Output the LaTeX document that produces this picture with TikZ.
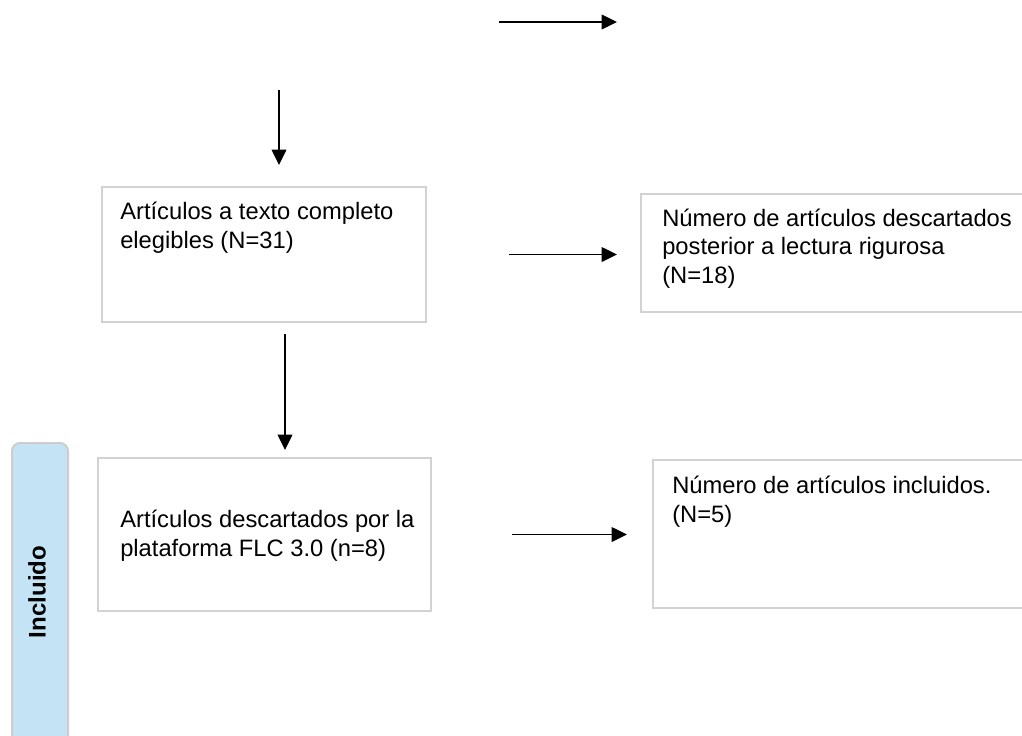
\documentclass[tikz,border=0pt]{standalone}
\usepackage{fontspec}
\setmainfont{Liberation Sans}
\usetikzlibrary{positioning,arrows.meta,calc}
\definecolor{BoxGray}{RGB}{210,210,210}
\definecolor{PanelBlue}{RGB}{196,228,245}
\definecolor{PanelEdge}{RGB}{205,205,205}

\begin{document}
\begin{tikzpicture}[x=0.75pt, y=-0.75pt, font=\fontsize{17.8}{21.3}\selectfont, every node/.style={align=left}]
\tikzset{
  stagebox/.style={draw=BoxGray, line width=1.5pt, anchor=north west, inner sep=0pt},
  boxtext/.style={anchor=base west, inner sep=0pt},
  phasebox/.style={draw=PanelEdge, fill=PanelBlue, line width=1.5pt, rounded corners=6pt, anchor=north west, inner sep=0pt, minimum width=42pt, minimum height=247.5pt},
  arr/.style={-{Triangle[length=11.5pt, width=11pt]}, line width=1.1pt, black}
}
  \useasboundingbox (0,0) rectangle (1022,736);
  \clip (0,0) rectangle (1022,736);
  % boxes
  \node[stagebox, minimum width=243pt, minimum height=101.25pt] (b1) at (101,186) {};
  \node[stagebox, minimum width=300pt, minimum height=88.5pt] (b2) at (640,193) {};
  \node[stagebox, minimum width=249.75pt, minimum height=114.75pt] (b3) at (97,457) {};
  \node[stagebox, minimum width=300pt, minimum height=111pt] (b4) at (652,459) {};
  \node[phasebox] (incl) at (11,442) {};
  % texts (base = last line)
  \node[boxtext] (t1) at (120,248) {Artículos a texto completo\\elegibles (N=31)};
  \node[boxtext] (t2) at (662,283) {Número de artículos descartados\\posterior a lectura rigurosa\\(N=18)};
  \node[boxtext] (t3) at (120,556) {Artículos descartados por la\\plataforma FLC 3.0 (n=8)};
  \node[boxtext] (t4) at (672,522) {Número de artículos incluidos.\\(N=5)};
  \node[rotate=90, font=\fontsize{18}{21}\selectfont\bfseries] (lbl) at (37,592) {Incluido};
  % arrows
  \coordinate (top1) at (499,22);
  \coordinate (top2) at (617,22);
  \coordinate (src) at (279,90);
  \draw[arr] (top1) -- (top2);
  \draw[arr, shorten >=15.75pt] (src) -- (src |- b1.north);
  \draw[arr, shorten <=61.5pt, shorten >=17.25pt] (b1.east) -- (b2.west |- b1.east);
  \draw[arr, shorten <=8.25pt, shorten >=5.25pt] ([xshift=15.75pt]b1.south) -- ([xshift=15.75pt]b1.south |- b3.north);
  \draw[arr, shorten <=60pt, shorten >=18.75pt] (b3.east) -- (b4.west |- b3.east);
\end{tikzpicture}
\end{document}
